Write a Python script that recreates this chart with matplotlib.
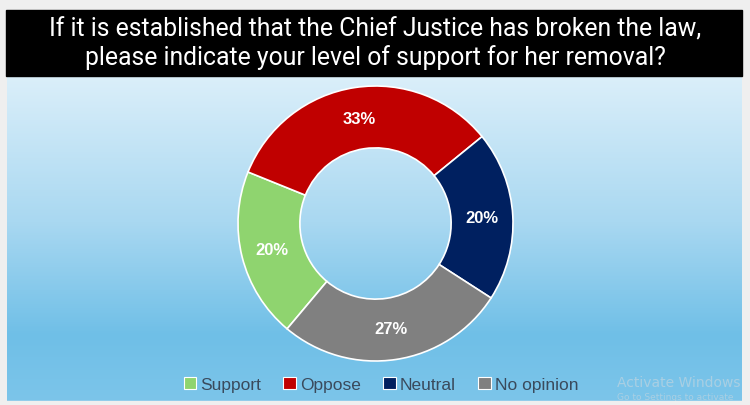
import numpy as np
from matplotlib import pyplot as plt
from matplotlib.patches import Rectangle, Patch
from matplotlib.colors import LinearSegmentedColormap

# data
labels = ["Support", "Oppose", "Neutral", "No opinion"]
shares = [20, 33, 20, 27]
colors = ["#8fd46f", "#c00000", "#002060", "#808080"]

title = ("If it is established that the Chief Justice has broken the law,\n"
         "please indicate your level of support for her removal?")

W, H = 750, 406
fig = plt.figure(figsize=(W / 100, H / 100), dpi=100, facecolor="#efefef")

# background layer in pixel coords
bg = fig.add_axes([0, 0, 1, 1])
bg.set_xlim(0, W)
bg.set_ylim(H, 0)
bg.axis("off")

cmap = LinearSegmentedColormap.from_list(
    "sky", [(0, "#dbeffa"), (0.45, "#a9d8f1"), (0.8, "#6fbfe7"), (1, "#7cc5ea")])
grad = np.linspace(0, 1, 256).reshape(-1, 1)
bg.imshow(grad, cmap=cmap, aspect="auto", extent=(7, 742, 402, 76), zorder=0)

bg.add_patch(Rectangle((6, 11), 736, 66, color="black", zorder=1))
bg.text(375, 44, title, ha="center", va="center", color="white", fontsize=17.8,
        family="Roboto", linespacing=1.2, zorder=2)

# faint os watermark
bg.text(617, 383, "Activate Windows", color="#a9cfe3", fontsize=10, va="center", zorder=2)
bg.text(617, 398, "Go to Settings to activate", color="#a9cfe3", fontsize=6.5,
        va="center", zorder=2)
bg.add_patch(Rectangle((0, 402), W, 4, color="#efefef", zorder=3))

# donut
cx, cy, r = 375.5, 224.5, 137.5
ax = fig.add_axes([(cx - r) / W, (H - cy - r) / H, 2 * r / W, 2 * r / H])
ax.set_facecolor("none")
wedges, _, autotexts = ax.pie(
    shares, colors=colors, startangle=230, counterclock=False, radius=1,
    autopct="%d%%", pctdistance=0.775,
    wedgeprops=dict(width=0.45, edgecolor="white", linewidth=1.2))
for t in autotexts:
    t.set_color("white")
    t.set_fontsize(12)
    t.set_fontweight("bold")
    t.set_family("Liberation Sans")
ax.set_xlim(-1, 1)
ax.set_ylim(-1, 1)

handles = [Patch(facecolor=c, edgecolor="white", linewidth=0.8) for c in colors]
fig.legend(handles, labels, loc="center", bbox_to_anchor=(0.508, 0.05), ncol=4,
           frameon=False, prop={"family": "Liberation Sans", "size": 12.5},
           handlelength=0.7, handleheight=0.7, handletextpad=0.25,
           columnspacing=1.3, labelcolor="#3a4a5c")

fig.savefig("out.png", dpi=100, facecolor=fig.get_facecolor())
